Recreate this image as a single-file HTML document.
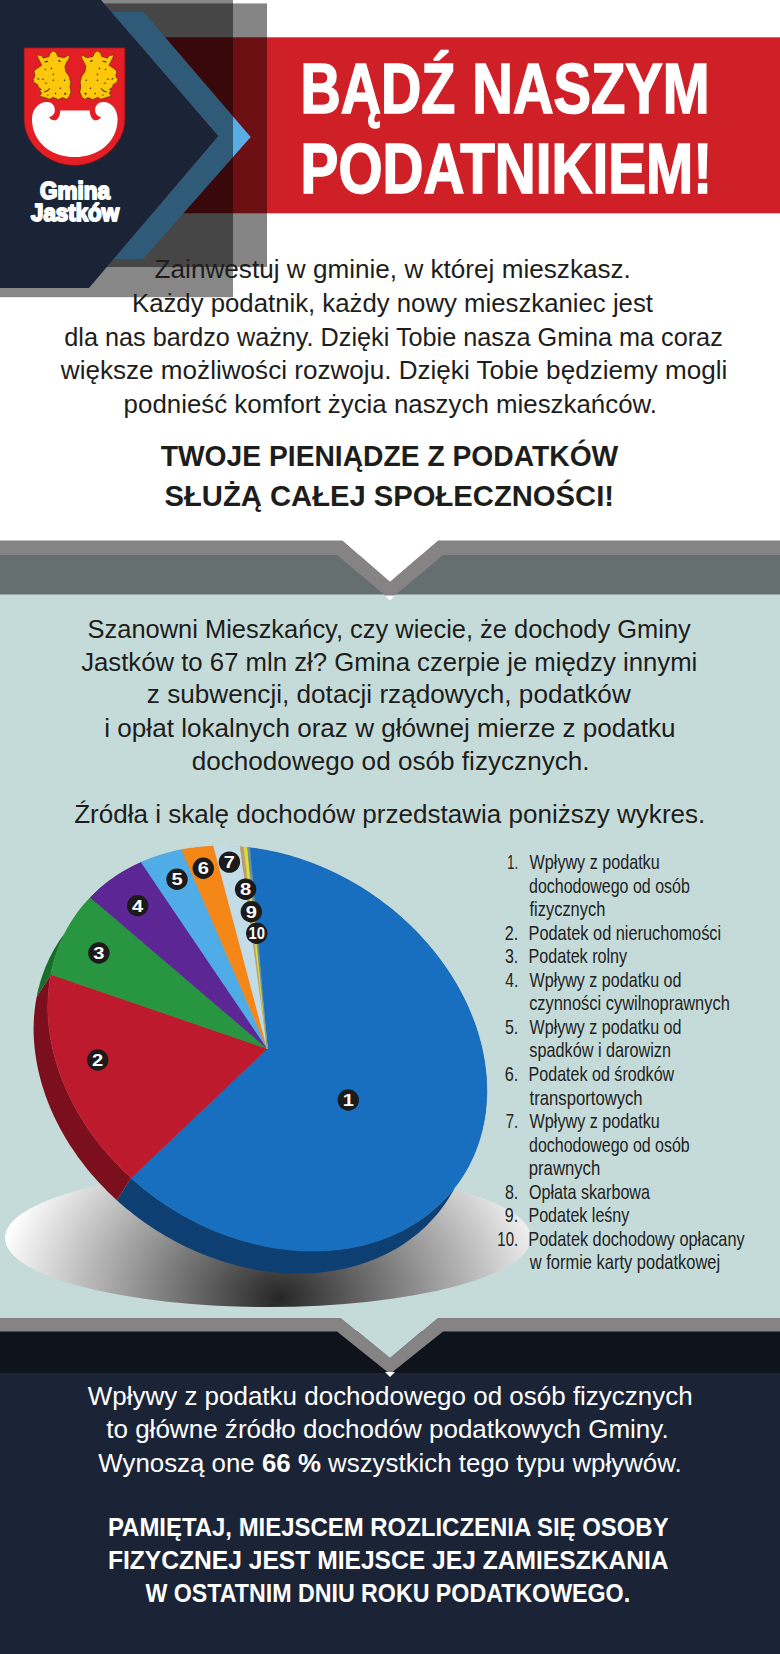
<!DOCTYPE html>
<html lang="pl">
<head>
<meta charset="utf-8">
<title>Bądź naszym podatnikiem</title>
<style>
html,body{margin:0;padding:0;background:#fff;}
body{width:780px;height:1654px;overflow:hidden;font-family:"Liberation Sans",sans-serif;}
svg{display:block;}
text{font-family:"Liberation Sans",sans-serif;fill:#1d1d1b;}
.b{font-weight:bold;}
.lg{font-weight:bold;font-size:23.6px;fill:#fff;stroke:#fff;stroke-width:1.9px;stroke-linejoin:round;text-anchor:middle;}
.t{stroke:#fff;stroke-width:1.6px;}
.l{fill:#222;}
.bn{font-weight:bold;font-size:17px;fill:#fff;text-anchor:middle;}
</style>
</head>
<body>
<svg width="780" height="1654" viewBox="0 0 780 1654">
<defs>
<radialGradient id="shg" gradientUnits="userSpaceOnUse" cx="0" cy="0" r="1" gradientTransform="translate(280 1298) scale(285 220)">
<stop offset="0" stop-color="#262626"/>
<stop offset="1" stop-color="#ffffff"/>
</radialGradient>
</defs>
<!-- backgrounds -->
<rect x="0" y="0" width="780" height="1654" fill="#ffffff"/>
<rect x="0" y="594" width="780" height="740" fill="#c5dbd9"/>
<rect x="0" y="1373" width="780" height="281" fill="#1b2437"/>

<!-- header -->
<rect x="100" y="37.3" width="680" height="176" fill="#cf2027"/>
<rect x="60" y="3.4" width="207" height="263.6" fill="#000" fill-opacity="0.48"/>
<polygon points="111,12 143.5,12 250.7,137 143,259 113.5,259 218,136" fill="#5aade4"/>
<rect x="0" y="0" width="233" height="297.2" fill="#000" fill-opacity="0.47"/>
<polygon points="0,0 101,0 218,136 89,288 0,288" fill="#1b2437"/>


<!-- logo -->
<g transform="translate(20 40) scale(0.14103)">
<path d="M28,55 H745 V560 C745,745 565,890 385,890 C205,890 28,745 28,560 Z" fill="#e31e25" stroke="#6e1418" stroke-width="6"/>
<path d="M190,440 C232,440 252,472 246,508 C243,530 226,541 205,546 C216,566 243,578 262,563 C278,550 284,530 285,500 L495,500 C496,530 502,550 518,563 C537,578 564,566 575,546 C554,541 537,530 534,508 C528,472 548,440 590,440 C650,440 692,495 692,560 C692,720 560,830 388,830 C216,830 85,720 85,560 C85,495 130,440 190,440 Z" fill="#ffffff"/>
</g>
<g id="lion" transform="translate(28 46) scale(0.0641)">
<path d="M135,140 L215,150 L235,190 L330,165 L345,115 L395,75 L440,105 L465,165 L560,185 L650,135 L640,190 L600,260 L575,320 L590,400 L640,470 L665,560 L655,640 L670,720 L640,790 L600,830 L540,805 L470,835 L390,800 L340,830 L250,800 L180,785 L215,730 L175,700 L210,680 L160,640 L150,600 L95,570 L80,520 L110,470 L95,390 L150,345 L215,300 L180,230 Z" fill="#fdc70c" stroke="#4a3200" stroke-width="9" stroke-linejoin="round"/>
<g fill="#2b1c00">
<circle cx="270" cy="365" r="11"/><circle cx="365" cy="350" r="11"/><circle cx="395" cy="440" r="11"/><circle cx="395" cy="535" r="11"/><circle cx="570" cy="535" r="11"/><circle cx="505" cy="660" r="11"/><circle cx="430" cy="740" r="11"/><circle cx="580" cy="745" r="14"/><circle cx="310" cy="765" r="10"/>
<rect x="215" y="510" width="36" height="14" rx="6"/><rect x="262" y="572" width="36" height="14" rx="6"/><rect x="255" y="236" width="60" height="16" rx="7" transform="rotate(-12 285 244)"/><rect x="470" y="226" width="40" height="18" rx="7" transform="rotate(35 490 235)"/><rect x="140" y="505" width="40" height="13" rx="6" transform="rotate(40 160 512)"/>
<path d="M335,655 C310,690 280,705 245,712 L250,722 C290,718 322,700 345,662 Z"/>
</g>
</g>
<use href="#lion" transform="translate(150.8 0) scale(-1 1)"/>


<text x="75" y="198.9" class="lg" textLength="70" lengthAdjust="spacingAndGlyphs">Gmina</text>
<text x="75" y="220.8" class="lg" textLength="88" lengthAdjust="spacingAndGlyphs">Jastków</text>

<!-- divider 1 -->
<rect x="0" y="555" width="780" height="39.5" fill="#666f6f"/>
<polygon points="0,540.5 342.7,540.5 390,581.8 437.8,540.5 780,540.5 780,555 443,555 390,599.6 337,555 0,555" fill="#858384"/>
<polygon points="342,540 390,581.8 438.5,540" fill="#ffffff"/>
<polygon points="385,595.5 395,595.5 390,600.5" fill="#ffffff"/>

<!-- divider 2 -->
<rect x="0" y="1331" width="780" height="42" fill="#0f131c"/>
<polygon points="0,1318 341,1318 390,1358 437.5,1318 780,1318 780,1331.5 443,1331.5 390,1374 337,1331.5 0,1331.5" fill="#858384"/>
<polygon points="340.5,1317.5 390,1358 438,1317.5" fill="#c5dbd9"/>
<polygon points="385,1372 395,1372 390,1377" fill="#ffffff"/>

<!-- pie -->
<ellipse cx="268" cy="1238" rx="263" ry="69" fill="url(#shg)"/>
<path d="M249.8 847.8 L249.8 847.8 L254.2 848.3 L258.5 849.0 L262.9 849.7 L267.3 850.5 L271.7 851.4 L276.1 852.3 L280.4 853.3 L284.8 854.5 L289.2 855.6 L293.5 856.9 L297.9 858.2 L302.2 859.7 L306.5 861.2 L310.8 862.7 L315.1 864.4 L319.3 866.1 L323.6 867.9 L327.8 869.7 L332.0 871.7 L336.2 873.7 L340.3 875.7 L344.4 877.9 L348.5 880.1 L352.6 882.4 L356.6 884.7 L360.6 887.1 L364.5 889.6 L368.4 892.1 L372.3 894.7 L376.1 897.4 L379.9 900.1 L383.6 902.9 L387.3 905.7 L391.0 908.6 L394.6 911.5 L398.1 914.5 L401.6 917.6 L405.0 920.7 L408.4 923.8 L411.7 927.1 L415.0 930.3 L418.2 933.6 L421.4 937.0 L424.4 940.4 L427.5 943.8 L430.4 947.3 L433.3 950.8 L436.2 954.4 L438.9 957.9 L441.6 961.6 L444.2 965.2 L446.8 968.9 L449.3 972.7 L451.7 976.4 L454.0 980.2 L456.3 984.0 L458.5 987.9 L460.6 991.8 L462.6 995.6 L464.6 999.6 L466.5 1003.5 L468.3 1007.4 L470.0 1011.4 L471.6 1015.4 L473.2 1019.4 L474.7 1023.4 L476.1 1027.4 L477.4 1031.4 L478.6 1035.4 L479.7 1039.5 L480.8 1043.5 L481.8 1047.5 L482.6 1051.6 L483.4 1055.6 L484.2 1059.7 L484.8 1063.7 L485.3 1067.7 L485.8 1071.7 L486.2 1075.8 L486.4 1079.8 L486.6 1083.7 L486.7 1087.7 L486.8 1091.7 L486.7 1095.6 L486.5 1099.5 L486.3 1103.4 L486.0 1107.3 L485.6 1111.2 L485.1 1115.0 L484.5 1118.8 L483.8 1122.6 L483.0 1126.3 L482.2 1130.0 L481.2 1133.7 L480.2 1137.4 L479.1 1141.0 L477.9 1144.6 L476.7 1148.1 L475.3 1151.6 L473.9 1155.1 L472.3 1158.5 L470.7 1161.8 L469.1 1165.2 L467.3 1168.5 L465.4 1171.7 L463.5 1174.9 L461.5 1178.0 L459.5 1181.1 L457.3 1184.1 L455.1 1187.1 L452.8 1190.0 L450.4 1192.9 L447.9 1195.7 L445.4 1198.4 L442.8 1201.1 L440.2 1203.8 L437.4 1206.3 L434.6 1208.8 L431.8 1211.3 L428.8 1213.6 L425.8 1215.9 L422.8 1218.2 L419.6 1220.4 L416.5 1222.5 L413.2 1224.5 L409.9 1226.5 L406.6 1228.4 L403.2 1230.2 L399.7 1231.9 L396.2 1233.6 L392.6 1235.2 L389.0 1236.8 L385.3 1238.2 L381.6 1239.6 L377.8 1240.9 L374.0 1242.1 L370.2 1243.3 L366.3 1244.4 L362.4 1245.4 L358.4 1246.3 L354.4 1247.1 L350.4 1247.9 L346.3 1248.6 L342.2 1249.2 L338.1 1249.7 L333.9 1250.1 L329.7 1250.5 L325.5 1250.8 L321.3 1251.0 L317.0 1251.1 L312.7 1251.1 L308.5 1251.1 L304.1 1251.0 L299.8 1250.8 L295.5 1250.5 L291.1 1250.1 L286.8 1249.7 L282.4 1249.1 L278.0 1248.5 L273.7 1247.9 L269.3 1247.1 L264.9 1246.3 L260.5 1245.3 L256.2 1244.3 L251.8 1243.3 L247.4 1242.1 L243.1 1240.9 L238.7 1239.6 L234.4 1238.2 L230.1 1236.7 L225.8 1235.2 L221.5 1233.6 L217.2 1231.9 L212.9 1230.2 L208.7 1228.3 L204.5 1226.4 L200.3 1224.5 L196.2 1222.4 L192.0 1220.3 L187.9 1218.1 L183.9 1215.9 L179.8 1213.6 L175.8 1211.2 L171.9 1208.8 L167.9 1206.3 L164.1 1203.7 L160.2 1201.1 L156.4 1198.4 L152.7 1195.6 L148.9 1192.8 L145.3 1189.9 L141.7 1187.0 L138.1 1184.0 L134.6 1181.0 L131.1 1177.9 L116.9 1200.3 L120.4 1203.4 L123.9 1206.4 L127.5 1209.4 L131.1 1212.3 L134.7 1215.2 L138.5 1218.0 L142.2 1220.8 L146.0 1223.5 L149.9 1226.1 L153.7 1228.7 L157.7 1231.2 L161.6 1233.6 L165.6 1236.0 L169.7 1238.3 L173.7 1240.5 L177.8 1242.7 L182.0 1244.8 L186.1 1246.9 L190.3 1248.8 L194.5 1250.7 L198.7 1252.6 L203.0 1254.3 L207.3 1256.0 L211.6 1257.6 L215.9 1259.1 L220.2 1260.6 L224.5 1262.0 L228.9 1263.3 L233.2 1264.5 L237.6 1265.7 L242.0 1266.7 L246.3 1267.7 L250.7 1268.7 L255.1 1269.5 L259.5 1270.3 L263.8 1270.9 L268.2 1271.5 L272.6 1272.1 L276.9 1272.5 L281.3 1272.9 L285.6 1273.2 L289.9 1273.4 L294.3 1273.5 L298.5 1273.5 L302.8 1273.5 L307.1 1273.4 L311.3 1273.2 L315.5 1272.9 L319.7 1272.5 L323.9 1272.1 L328.0 1271.6 L332.1 1271.0 L336.2 1270.3 L340.2 1269.5 L344.2 1268.7 L348.2 1267.8 L352.1 1266.8 L356.0 1265.7 L359.8 1264.5 L363.6 1263.3 L367.4 1262.0 L371.1 1260.6 L374.8 1259.2 L378.4 1257.6 L382.0 1256.0 L385.5 1254.3 L389.0 1252.6 L392.4 1250.8 L395.7 1248.9 L399.0 1246.9 L402.3 1244.9 L405.4 1242.8 L408.6 1240.6 L411.6 1238.3 L414.6 1236.0 L417.6 1233.7 L420.4 1231.2 L423.2 1228.7 L426.0 1226.2 L428.6 1223.5 L431.2 1220.8 L433.7 1218.1 L436.2 1215.3 L438.6 1212.4 L440.9 1209.5 L443.1 1206.5 L445.3 1203.5 L447.3 1200.4 L449.3 1197.3 L451.2 1194.1 L453.1 1190.9 L454.9 1187.6 L456.5 1184.2 L458.1 1180.9 L459.7 1177.5 L461.1 1174.0 L462.5 1170.5 L463.7 1167.0 L464.9 1163.4 L466.0 1159.8 L467.0 1156.1 L468.0 1152.4 L468.8 1148.7 L469.6 1145.0 L470.3 1141.2 L470.9 1137.4 L471.4 1133.6 L471.8 1129.7 L472.1 1125.8 L472.3 1121.9 L472.5 1118.0 L472.6 1114.1 L472.5 1110.1 L472.4 1106.1 L472.2 1102.2 L472.0 1098.2 L471.6 1094.1 L471.1 1090.1 L470.6 1086.1 L470.0 1082.1 L469.2 1078.0 L468.4 1074.0 L467.6 1069.9 L466.6 1065.9 L465.5 1061.9 L464.4 1057.8 L463.2 1053.8 L461.9 1049.8 L460.5 1045.8 L459.0 1041.8 L457.4 1037.8 L455.8 1033.8 L454.1 1029.8 L452.3 1025.9 L450.4 1022.0 L448.4 1018.0 L446.4 1014.2 L444.3 1010.3 L442.1 1006.4 L439.8 1002.6 L437.5 998.8 L435.1 995.1 L432.6 991.3 L430.0 987.6 L427.4 984.0 L424.7 980.3 L422.0 976.8 L419.1 973.2 L416.2 969.7 L413.3 966.2 L410.2 962.8 L407.2 959.4 L404.0 956.0 L400.8 952.7 L397.5 949.5 L394.2 946.2 L390.8 943.1 L387.4 940.0 L383.9 936.9 L380.4 933.9 L376.8 931.0 L373.1 928.1 L369.4 925.3 L365.7 922.5 L361.9 919.8 L358.1 917.1 L354.2 914.5 L350.3 912.0 L346.4 909.5 L342.4 907.1 L338.4 904.8 L334.3 902.5 L330.2 900.3 L326.1 898.1 L322.0 896.1 L317.8 894.1 L313.6 892.1 L309.4 890.3 L305.1 888.5 L300.9 886.8 L296.6 885.1 L292.3 883.6 L288.0 882.1 L283.7 880.6 L279.3 879.3 L275.0 878.0 L270.6 876.9 L266.2 875.7 L261.9 874.7 L257.5 873.8 L253.1 872.9 L248.7 872.1 L244.3 871.4 L240.0 870.7 L235.6 870.2 Z" fill="#0e3f72"/>
<path d="M131.1 1177.9 L131.1 1177.9 L127.8 1174.8 L124.4 1171.7 L121.2 1168.5 L118.0 1165.2 L114.8 1161.9 L111.7 1158.6 L108.7 1155.2 L105.7 1151.8 L102.8 1148.3 L100.0 1144.8 L97.2 1141.2 L94.5 1137.7 L91.8 1134.1 L89.3 1130.4 L86.8 1126.7 L84.3 1123.0 L82.0 1119.3 L79.7 1115.5 L77.5 1111.7 L75.3 1107.9 L73.3 1104.1 L71.3 1100.2 L69.4 1096.3 L67.5 1092.4 L65.8 1088.5 L64.1 1084.6 L62.5 1080.6 L61.0 1076.6 L59.5 1072.7 L58.2 1068.7 L56.9 1064.7 L55.7 1060.7 L54.6 1056.7 L53.6 1052.7 L52.6 1048.7 L51.8 1044.7 L51.0 1040.7 L50.3 1036.7 L49.7 1032.7 L49.2 1028.7 L48.7 1024.7 L48.4 1020.8 L48.1 1016.8 L47.9 1012.8 L47.8 1008.9 L47.8 1005.0 L47.9 1001.1 L48.1 997.2 L48.3 993.3 L48.7 989.5 L49.1 985.7 L49.6 981.9 L50.2 978.1 L50.9 974.4 L36.7 996.8 L36.0 1000.5 L35.4 1004.3 L34.9 1008.1 L34.5 1011.9 L34.1 1015.7 L33.9 1019.6 L33.7 1023.5 L33.6 1027.4 L33.6 1031.3 L33.7 1035.2 L33.9 1039.2 L34.2 1043.2 L34.5 1047.1 L35.0 1051.1 L35.5 1055.1 L36.1 1059.1 L36.8 1063.1 L37.6 1067.1 L38.4 1071.1 L39.4 1075.1 L40.4 1079.1 L41.5 1083.1 L42.7 1087.1 L44.0 1091.1 L45.3 1095.1 L46.8 1099.0 L48.3 1103.0 L49.9 1107.0 L51.6 1110.9 L53.3 1114.8 L55.2 1118.7 L57.1 1122.6 L59.1 1126.5 L61.1 1130.3 L63.3 1134.1 L65.5 1137.9 L67.8 1141.7 L70.1 1145.4 L72.6 1149.1 L75.1 1152.8 L77.6 1156.5 L80.3 1160.1 L83.0 1163.6 L85.8 1167.2 L88.6 1170.7 L91.5 1174.2 L94.5 1177.6 L97.5 1181.0 L100.6 1184.3 L103.8 1187.6 L107.0 1190.9 L110.2 1194.1 L113.6 1197.2 L116.9 1200.3 Z" fill="#7c0f1d"/>
<path d="M50.9 974.4 L50.9 974.4 L51.6 970.7 L52.4 967.1 L53.4 963.5 L54.3 960.0 L55.4 956.4 L56.6 952.9 L57.8 949.5 L59.1 946.1 L60.5 942.7 L62.0 939.4 L63.5 936.1 L65.1 932.8 L66.8 929.6 L68.6 926.4 L70.5 923.3 L72.4 920.2 L74.4 917.2 L76.5 914.2 L78.6 911.3 L80.8 908.5 L83.1 905.6 L85.5 902.9 L87.9 900.2 L90.4 897.5 L76.2 919.9 L73.7 922.6 L71.3 925.3 L68.9 928.0 L66.6 930.9 L64.4 933.7 L62.3 936.6 L60.2 939.6 L58.2 942.6 L56.3 945.7 L54.4 948.8 L52.6 952.0 L50.9 955.2 L49.3 958.5 L47.8 961.8 L46.3 965.1 L44.9 968.5 L43.6 971.9 L42.4 975.3 L41.2 978.8 L40.1 982.4 L39.2 985.9 L38.2 989.5 L37.4 993.1 L36.7 996.8 Z" fill="#1a6e2c"/>
<path d="M90.4 897.5 L90.4 897.5 L92.9 895.0 L95.5 892.5 L98.1 890.0 L100.8 887.6 L103.6 885.3 L106.4 883.0 L109.3 880.8 L112.3 878.7 L115.3 876.6 L118.3 874.6 L121.5 872.6 L124.6 870.8 L127.8 868.9 L131.1 867.2 L134.4 865.5 L137.8 863.9 L141.2 862.3 L127.0 884.7 L123.6 886.3 L120.2 887.9 L116.9 889.6 L113.6 891.3 L110.4 893.2 L107.3 895.0 L104.1 897.0 L101.1 899.0 L98.1 901.1 L95.1 903.2 L92.2 905.4 L89.4 907.7 L86.6 910.0 L83.9 912.4 L81.3 914.9 L78.7 917.4 L76.2 919.9 Z" fill="#3d1865"/>
<path d="M141.2 862.3 L141.2 862.3 L144.7 860.8 L148.2 859.4 L151.8 858.0 L155.4 856.8 L159.0 855.6 L162.7 854.4 L166.4 853.4 L170.1 852.4 L173.9 851.4 L177.8 850.6 L181.6 849.8 L167.4 872.2 L163.6 873.0 L159.7 873.8 L155.9 874.8 L152.2 875.8 L148.5 876.8 L144.8 878.0 L141.2 879.2 L137.6 880.4 L134.0 881.8 L130.5 883.2 L127.0 884.7 Z" fill="#2f78a8"/>
<path d="M181.6 849.8 L181.6 849.8 L185.5 849.1 L189.5 848.5 L193.5 847.9 L197.5 847.4 L201.5 847.0 L205.5 846.7 L209.6 846.4 L213.7 846.2 L199.5 868.6 L195.4 868.8 L191.3 869.1 L187.3 869.4 L183.3 869.8 L179.3 870.3 L175.3 870.9 L171.3 871.5 L167.4 872.2 Z" fill="#b05f10"/>
<path d="M213.7 846.2 L213.7 846.2 L217.5 846.1 L221.2 846.1 L225.0 846.1 L228.8 846.2 L232.6 846.3 L236.4 846.5 L240.3 846.8 L226.1 869.2 L222.2 868.9 L218.4 868.7 L214.6 868.6 L210.8 868.5 L207.0 868.5 L203.3 868.5 L199.5 868.6 Z" fill="#8fa9b3"/>
<path d="M240.3 846.8 L240.3 846.8 L242.1 847.0 L243.9 847.1 L229.7 869.5 L227.9 869.4 L226.1 869.2 Z" fill="#8a6d49"/>
<path d="M243.9 847.1 L243.9 847.1 L245.7 847.3 L247.5 847.5 L233.3 869.9 L231.5 869.7 L229.7 869.5 Z" fill="#9aa228"/>
<path d="M247.5 847.5 L247.5 847.5 L248.7 847.6 L249.8 847.8 L235.6 870.2 L234.5 870.0 L233.3 869.9 Z" fill="#4d6570"/>
<path d="M267.3 1048.6 L249.8 847.8 L254.2 848.3 L258.5 849.0 L262.9 849.7 L267.3 850.5 L271.7 851.4 L276.1 852.3 L280.4 853.3 L284.8 854.5 L289.2 855.6 L293.5 856.9 L297.9 858.2 L302.2 859.7 L306.5 861.2 L310.8 862.7 L315.1 864.4 L319.3 866.1 L323.6 867.9 L327.8 869.7 L332.0 871.7 L336.2 873.7 L340.3 875.7 L344.4 877.9 L348.5 880.1 L352.6 882.4 L356.6 884.7 L360.6 887.1 L364.5 889.6 L368.4 892.1 L372.3 894.7 L376.1 897.4 L379.9 900.1 L383.6 902.9 L387.3 905.7 L391.0 908.6 L394.6 911.5 L398.1 914.5 L401.6 917.6 L405.0 920.7 L408.4 923.8 L411.7 927.1 L415.0 930.3 L418.2 933.6 L421.4 937.0 L424.4 940.4 L427.5 943.8 L430.4 947.3 L433.3 950.8 L436.2 954.4 L438.9 957.9 L441.6 961.6 L444.2 965.2 L446.8 968.9 L449.3 972.7 L451.7 976.4 L454.0 980.2 L456.3 984.0 L458.5 987.9 L460.6 991.8 L462.6 995.6 L464.6 999.6 L466.5 1003.5 L468.3 1007.4 L470.0 1011.4 L471.6 1015.4 L473.2 1019.4 L474.7 1023.4 L476.1 1027.4 L477.4 1031.4 L478.6 1035.4 L479.7 1039.5 L480.8 1043.5 L481.8 1047.5 L482.6 1051.6 L483.4 1055.6 L484.2 1059.7 L484.8 1063.7 L485.3 1067.7 L485.8 1071.7 L486.2 1075.8 L486.4 1079.8 L486.6 1083.7 L486.7 1087.7 L486.8 1091.7 L486.7 1095.6 L486.5 1099.5 L486.3 1103.4 L486.0 1107.3 L485.6 1111.2 L485.1 1115.0 L484.5 1118.8 L483.8 1122.6 L483.0 1126.3 L482.2 1130.0 L481.2 1133.7 L480.2 1137.4 L479.1 1141.0 L477.9 1144.6 L476.7 1148.1 L475.3 1151.6 L473.9 1155.1 L472.3 1158.5 L470.7 1161.8 L469.1 1165.2 L467.3 1168.5 L465.4 1171.7 L463.5 1174.9 L461.5 1178.0 L459.5 1181.1 L457.3 1184.1 L455.1 1187.1 L452.8 1190.0 L450.4 1192.9 L447.9 1195.7 L445.4 1198.4 L442.8 1201.1 L440.2 1203.8 L437.4 1206.3 L434.6 1208.8 L431.8 1211.3 L428.8 1213.6 L425.8 1215.9 L422.8 1218.2 L419.6 1220.4 L416.5 1222.5 L413.2 1224.5 L409.9 1226.5 L406.6 1228.4 L403.2 1230.2 L399.7 1231.9 L396.2 1233.6 L392.6 1235.2 L389.0 1236.8 L385.3 1238.2 L381.6 1239.6 L377.8 1240.9 L374.0 1242.1 L370.2 1243.3 L366.3 1244.4 L362.4 1245.4 L358.4 1246.3 L354.4 1247.1 L350.4 1247.9 L346.3 1248.6 L342.2 1249.2 L338.1 1249.7 L333.9 1250.1 L329.7 1250.5 L325.5 1250.8 L321.3 1251.0 L317.0 1251.1 L312.7 1251.1 L308.5 1251.1 L304.1 1251.0 L299.8 1250.8 L295.5 1250.5 L291.1 1250.1 L286.8 1249.7 L282.4 1249.1 L278.0 1248.5 L273.7 1247.9 L269.3 1247.1 L264.9 1246.3 L260.5 1245.3 L256.2 1244.3 L251.8 1243.3 L247.4 1242.1 L243.1 1240.9 L238.7 1239.6 L234.4 1238.2 L230.1 1236.7 L225.8 1235.2 L221.5 1233.6 L217.2 1231.9 L212.9 1230.2 L208.7 1228.3 L204.5 1226.4 L200.3 1224.5 L196.2 1222.4 L192.0 1220.3 L187.9 1218.1 L183.9 1215.9 L179.8 1213.6 L175.8 1211.2 L171.9 1208.8 L167.9 1206.3 L164.1 1203.7 L160.2 1201.1 L156.4 1198.4 L152.7 1195.6 L148.9 1192.8 L145.3 1189.9 L141.7 1187.0 L138.1 1184.0 L134.6 1181.0 L131.1 1177.9 Z" fill="#186fbf" stroke="#186fbf" stroke-width="0.6"/>
<path d="M267.3 1048.6 L131.1 1177.9 L127.8 1174.8 L124.4 1171.7 L121.2 1168.5 L118.0 1165.2 L114.8 1161.9 L111.7 1158.6 L108.7 1155.2 L105.7 1151.8 L102.8 1148.3 L100.0 1144.8 L97.2 1141.2 L94.5 1137.7 L91.8 1134.1 L89.3 1130.4 L86.8 1126.7 L84.3 1123.0 L82.0 1119.3 L79.7 1115.5 L77.5 1111.7 L75.3 1107.9 L73.3 1104.1 L71.3 1100.2 L69.4 1096.3 L67.5 1092.4 L65.8 1088.5 L64.1 1084.6 L62.5 1080.6 L61.0 1076.6 L59.5 1072.7 L58.2 1068.7 L56.9 1064.7 L55.7 1060.7 L54.6 1056.7 L53.6 1052.7 L52.6 1048.7 L51.8 1044.7 L51.0 1040.7 L50.3 1036.7 L49.7 1032.7 L49.2 1028.7 L48.7 1024.7 L48.4 1020.8 L48.1 1016.8 L47.9 1012.8 L47.8 1008.9 L47.8 1005.0 L47.9 1001.1 L48.1 997.2 L48.3 993.3 L48.7 989.5 L49.1 985.7 L49.6 981.9 L50.2 978.1 L50.9 974.4 Z" fill="#be1a2d" stroke="#be1a2d" stroke-width="0.6"/>
<path d="M267.3 1048.6 L50.9 974.4 L51.6 970.7 L52.4 967.1 L53.4 963.5 L54.3 960.0 L55.4 956.4 L56.6 952.9 L57.8 949.5 L59.1 946.1 L60.5 942.7 L62.0 939.4 L63.5 936.1 L65.1 932.8 L66.8 929.6 L68.6 926.4 L70.5 923.3 L72.4 920.2 L74.4 917.2 L76.5 914.2 L78.6 911.3 L80.8 908.5 L83.1 905.6 L85.5 902.9 L87.9 900.2 L90.4 897.5 Z" fill="#289640" stroke="#289640" stroke-width="0.6"/>
<path d="M267.3 1048.6 L90.4 897.5 L92.9 895.0 L95.5 892.5 L98.1 890.0 L100.8 887.6 L103.6 885.3 L106.4 883.0 L109.3 880.8 L112.3 878.7 L115.3 876.6 L118.3 874.6 L121.5 872.6 L124.6 870.8 L127.8 868.9 L131.1 867.2 L134.4 865.5 L137.8 863.9 L141.2 862.3 Z" fill="#5c2694" stroke="#5c2694" stroke-width="0.6"/>
<path d="M267.3 1048.6 L141.2 862.3 L144.7 860.8 L148.2 859.4 L151.8 858.0 L155.4 856.8 L159.0 855.6 L162.7 854.4 L166.4 853.4 L170.1 852.4 L173.9 851.4 L177.8 850.6 L181.6 849.8 Z" fill="#50ace6" stroke="#50ace6" stroke-width="0.6"/>
<path d="M267.3 1048.6 L181.6 849.8 L185.5 849.1 L189.5 848.5 L193.5 847.9 L197.5 847.4 L201.5 847.0 L205.5 846.7 L209.6 846.4 L213.7 846.2 Z" fill="#f58719" stroke="#f58719" stroke-width="0.6"/>
<path d="M267.3 1048.6 L213.7 846.2 L217.5 846.1 L221.2 846.1 L225.0 846.1 L228.8 846.2 L232.6 846.3 L236.4 846.5 L240.3 846.8 Z" fill="#c3dde8" stroke="#c3dde8" stroke-width="0.6"/>
<path d="M267.3 1048.6 L240.3 846.8 L242.1 847.0 L243.9 847.1 Z" fill="#c09a6a" stroke="#c09a6a" stroke-width="0.6"/>
<path d="M267.3 1048.6 L243.9 847.1 L245.7 847.3 L247.5 847.5 Z" fill="#d8e23a" stroke="#d8e23a" stroke-width="0.6"/>
<path d="M267.3 1048.6 L247.5 847.5 L248.7 847.6 L249.8 847.8 Z" fill="#6f8f9e" stroke="#6f8f9e" stroke-width="0.6"/>
<circle cx="348.3" cy="1100.0" r="10.7" fill="#1c1a1b"/>
<text x="348.3" y="1105.9" class="bn" textLength="11.2" lengthAdjust="spacingAndGlyphs">1</text>
<circle cx="97.7" cy="1060.0" r="10.7" fill="#1c1a1b"/>
<text x="97.7" y="1065.9" class="bn" textLength="11.2" lengthAdjust="spacingAndGlyphs">2</text>
<circle cx="98.9" cy="953.0" r="10.7" fill="#1c1a1b"/>
<text x="98.9" y="958.9" class="bn" textLength="11.2" lengthAdjust="spacingAndGlyphs">3</text>
<circle cx="137.7" cy="905.7" r="10.7" fill="#1c1a1b"/>
<text x="137.7" y="911.6" class="bn" textLength="11.2" lengthAdjust="spacingAndGlyphs">4</text>
<circle cx="177.0" cy="879.3" r="10.7" fill="#1c1a1b"/>
<text x="177.0" y="885.2" class="bn" textLength="11.2" lengthAdjust="spacingAndGlyphs">5</text>
<circle cx="203.3" cy="868.3" r="10.7" fill="#1c1a1b"/>
<text x="203.3" y="874.2" class="bn" textLength="11.2" lengthAdjust="spacingAndGlyphs">6</text>
<circle cx="229.4" cy="862.1" r="10.7" fill="#1c1a1b"/>
<text x="229.4" y="868.0" class="bn" textLength="11.2" lengthAdjust="spacingAndGlyphs">7</text>
<circle cx="245.6" cy="889.2" r="10.7" fill="#1c1a1b"/>
<text x="245.6" y="895.1" class="bn" textLength="11.2" lengthAdjust="spacingAndGlyphs">8</text>
<circle cx="251.3" cy="911.7" r="10.7" fill="#1c1a1b"/>
<text x="251.3" y="917.6" class="bn" textLength="11.2" lengthAdjust="spacingAndGlyphs">9</text>
<circle cx="256.7" cy="933.3" r="10.7" fill="#1c1a1b"/>
<text x="256.7" y="939.2" class="bn" textLength="16.5" lengthAdjust="spacingAndGlyphs">10</text>

<!-- list -->
<text x="529.58" y="868.9" font-size="20.2" textLength="130.10" lengthAdjust="spacingAndGlyphs" class="l">Wpływy z podatku</text>
<text x="507.21" y="868.9" font-size="20.2" textLength="10.77" lengthAdjust="spacingAndGlyphs" class="l">1.</text>
<text x="529.00" y="892.5" font-size="20.2" textLength="160.81" lengthAdjust="spacingAndGlyphs" class="l">dochodowego od osób</text>
<text x="529.55" y="916.0" font-size="20.2" textLength="75.79" lengthAdjust="spacingAndGlyphs" class="l">fizycznych</text>
<text x="528.52" y="939.6" font-size="20.2" textLength="192.65" lengthAdjust="spacingAndGlyphs" class="l">Podatek od nieruchomości</text>
<text x="504.79" y="939.6" font-size="20.2" textLength="13.49" lengthAdjust="spacingAndGlyphs" class="l">2.</text>
<text x="528.48" y="963.1" font-size="20.2" textLength="98.68" lengthAdjust="spacingAndGlyphs" class="l">Podatek rolny</text>
<text x="504.93" y="963.1" font-size="20.2" textLength="13.33" lengthAdjust="spacingAndGlyphs" class="l">3.</text>
<text x="529.55" y="986.7" font-size="20.2" textLength="151.87" lengthAdjust="spacingAndGlyphs" class="l">Wpływy z podatku od</text>
<text x="505.23" y="986.7" font-size="20.2" textLength="13.00" lengthAdjust="spacingAndGlyphs" class="l">4.</text>
<text x="529.13" y="1010.3" font-size="20.2" textLength="200.67" lengthAdjust="spacingAndGlyphs" class="l">czynności cywilnoprawnych</text>
<text x="529.55" y="1033.8" font-size="20.2" textLength="151.87" lengthAdjust="spacingAndGlyphs" class="l">Wpływy z podatku od</text>
<text x="504.89" y="1033.8" font-size="20.2" textLength="13.39" lengthAdjust="spacingAndGlyphs" class="l">5.</text>
<text x="529.33" y="1057.4" font-size="20.2" textLength="141.62" lengthAdjust="spacingAndGlyphs" class="l">spadków i darowizn</text>
<text x="528.59" y="1080.9" font-size="20.2" textLength="145.61" lengthAdjust="spacingAndGlyphs" class="l">Podatek od środków</text>
<text x="504.77" y="1080.9" font-size="20.2" textLength="13.52" lengthAdjust="spacingAndGlyphs" class="l">6.</text>
<text x="529.61" y="1104.5" font-size="20.2" textLength="113.02" lengthAdjust="spacingAndGlyphs" class="l">transportowych</text>
<text x="529.58" y="1128.1" font-size="20.2" textLength="130.20" lengthAdjust="spacingAndGlyphs" class="l">Wpływy z podatku</text>
<text x="505.73" y="1128.1" font-size="20.2" textLength="12.43" lengthAdjust="spacingAndGlyphs" class="l">7.</text>
<text x="529.00" y="1151.6" font-size="20.2" textLength="160.71" lengthAdjust="spacingAndGlyphs" class="l">dochodowego od osób</text>
<text x="528.73" y="1175.2" font-size="20.2" textLength="71.55" lengthAdjust="spacingAndGlyphs" class="l">prawnych</text>
<text x="528.99" y="1198.7" font-size="20.2" textLength="121.01" lengthAdjust="spacingAndGlyphs" class="l">Opłata skarbowa</text>
<text x="504.89" y="1198.7" font-size="20.2" textLength="13.39" lengthAdjust="spacingAndGlyphs" class="l">8.</text>
<text x="528.45" y="1222.3" font-size="20.2" textLength="100.91" lengthAdjust="spacingAndGlyphs" class="l">Podatek leśny</text>
<text x="504.84" y="1222.3" font-size="20.2" textLength="13.44" lengthAdjust="spacingAndGlyphs" class="l">9.</text>
<text x="528.36" y="1245.9" font-size="20.2" textLength="216.24" lengthAdjust="spacingAndGlyphs" class="l">Podatek dochodowy opłacany</text>
<text x="497.35" y="1245.9" font-size="20.2" textLength="20.83" lengthAdjust="spacingAndGlyphs" class="l">10.</text>
<text x="529.80" y="1269.4" font-size="20.2" textLength="190.35" lengthAdjust="spacingAndGlyphs" class="l">w formie karty podatkowej</text>

<!-- texts -->
<text x="300.39" y="112.9" font-size="69.6" textLength="154.86" lengthAdjust="spacingAndGlyphs" class="b t" style="fill:#fff">BĄDŹ</text>
<text x="472.34" y="112.9" font-size="69.6" textLength="237.21" lengthAdjust="spacingAndGlyphs" class="b t" style="fill:#fff">NASZYM</text>
<text x="300.57" y="192.7" font-size="69.6" textLength="411.62" lengthAdjust="spacingAndGlyphs" class="b t" style="fill:#fff">PODATNIKIEM!</text>
<text x="154.61" y="278.4" font-size="25.0" textLength="476.28" lengthAdjust="spacingAndGlyphs">Zainwestuj w gminie, w której mieszkasz.</text>
<text x="131.96" y="312.3" font-size="25.0" textLength="521.04" lengthAdjust="spacingAndGlyphs">Każdy podatnik, każdy nowy mieszkaniec jest</text>
<text x="64.30" y="345.8" font-size="25.0" textLength="658.49" lengthAdjust="spacingAndGlyphs">dla nas bardzo ważny. Dzięki Tobie nasza Gmina ma coraz</text>
<text x="60.80" y="379.3" font-size="25.0" textLength="666.61" lengthAdjust="spacingAndGlyphs">większe możliwości rozwoju. Dzięki Tobie będziemy mogli</text>
<text x="123.62" y="412.5" font-size="25.0" textLength="533.36" lengthAdjust="spacingAndGlyphs">podnieść komfort życia naszych mieszkańców.</text>
<text x="160.70" y="466.0" font-size="28.8" textLength="457.60" lengthAdjust="spacingAndGlyphs" class="b">TWOJE PIENIĄDZE Z PODATKÓW</text>
<text x="164.50" y="506.0" font-size="28.8" textLength="449.49" lengthAdjust="spacingAndGlyphs" class="b">SŁUŻĄ CAŁEJ SPOŁECZNOŚCI!</text>
<text x="87.59" y="637.8" font-size="25.0" textLength="603.21" lengthAdjust="spacingAndGlyphs">Szanowni Mieszkańcy, czy wiecie, że dochody Gminy</text>
<text x="81.17" y="670.6" font-size="25.0" textLength="616.15" lengthAdjust="spacingAndGlyphs">Jastków to 67 mln zł? Gmina czerpie je między innymi</text>
<text x="146.89" y="703.4" font-size="25.0" textLength="483.91" lengthAdjust="spacingAndGlyphs">z subwencji, dotacji rządowych, podatków</text>
<text x="104.30" y="736.6" font-size="25.0" textLength="571.31" lengthAdjust="spacingAndGlyphs">i opłat lokalnych oraz w głównej mierze z podatku</text>
<text x="191.67" y="769.8" font-size="25.0" textLength="397.98" lengthAdjust="spacingAndGlyphs">dochodowego od osób fizycznych.</text>
<text x="74.15" y="823.0" font-size="25.0" textLength="631.16" lengthAdjust="spacingAndGlyphs">Źródła i skalę dochodów przedstawia poniższy wykres.</text>
<text x="87.70" y="1404.6" font-size="25.0" textLength="605.01" lengthAdjust="spacingAndGlyphs" style="fill:#fff">Wpływy z podatku dochodowego od osób fizycznych</text>
<text x="106.20" y="1438.3" font-size="25.0" textLength="562.47" lengthAdjust="spacingAndGlyphs" style="fill:#fff">to główne źródło dochodów podatkowych Gminy.</text>
<text x="98.30" y="1471.5" font-size="25.0" textLength="583.34" lengthAdjust="spacingAndGlyphs" style="fill:#fff">Wynoszą one <tspan font-weight="bold">66 %</tspan> wszystkich tego typu wpływów.</text>
<text x="107.93" y="1536.0" font-size="25.0" textLength="560.70" lengthAdjust="spacingAndGlyphs" class="b" style="fill:#fff">PAMIĘTAJ, MIEJSCEM ROZLICZENIA SIĘ OSOBY</text>
<text x="107.93" y="1568.5" font-size="25.0" textLength="560.70" lengthAdjust="spacingAndGlyphs" class="b" style="fill:#fff">FIZYCZNEJ JEST MIEJSCE JEJ ZAMIESZKANIA</text>
<text x="145.40" y="1601.7" font-size="25.0" textLength="484.72" lengthAdjust="spacingAndGlyphs" class="b" style="fill:#fff">W OSTATNIM DNIU ROKU PODATKOWEGO.</text>
</svg>
</body>
</html>
